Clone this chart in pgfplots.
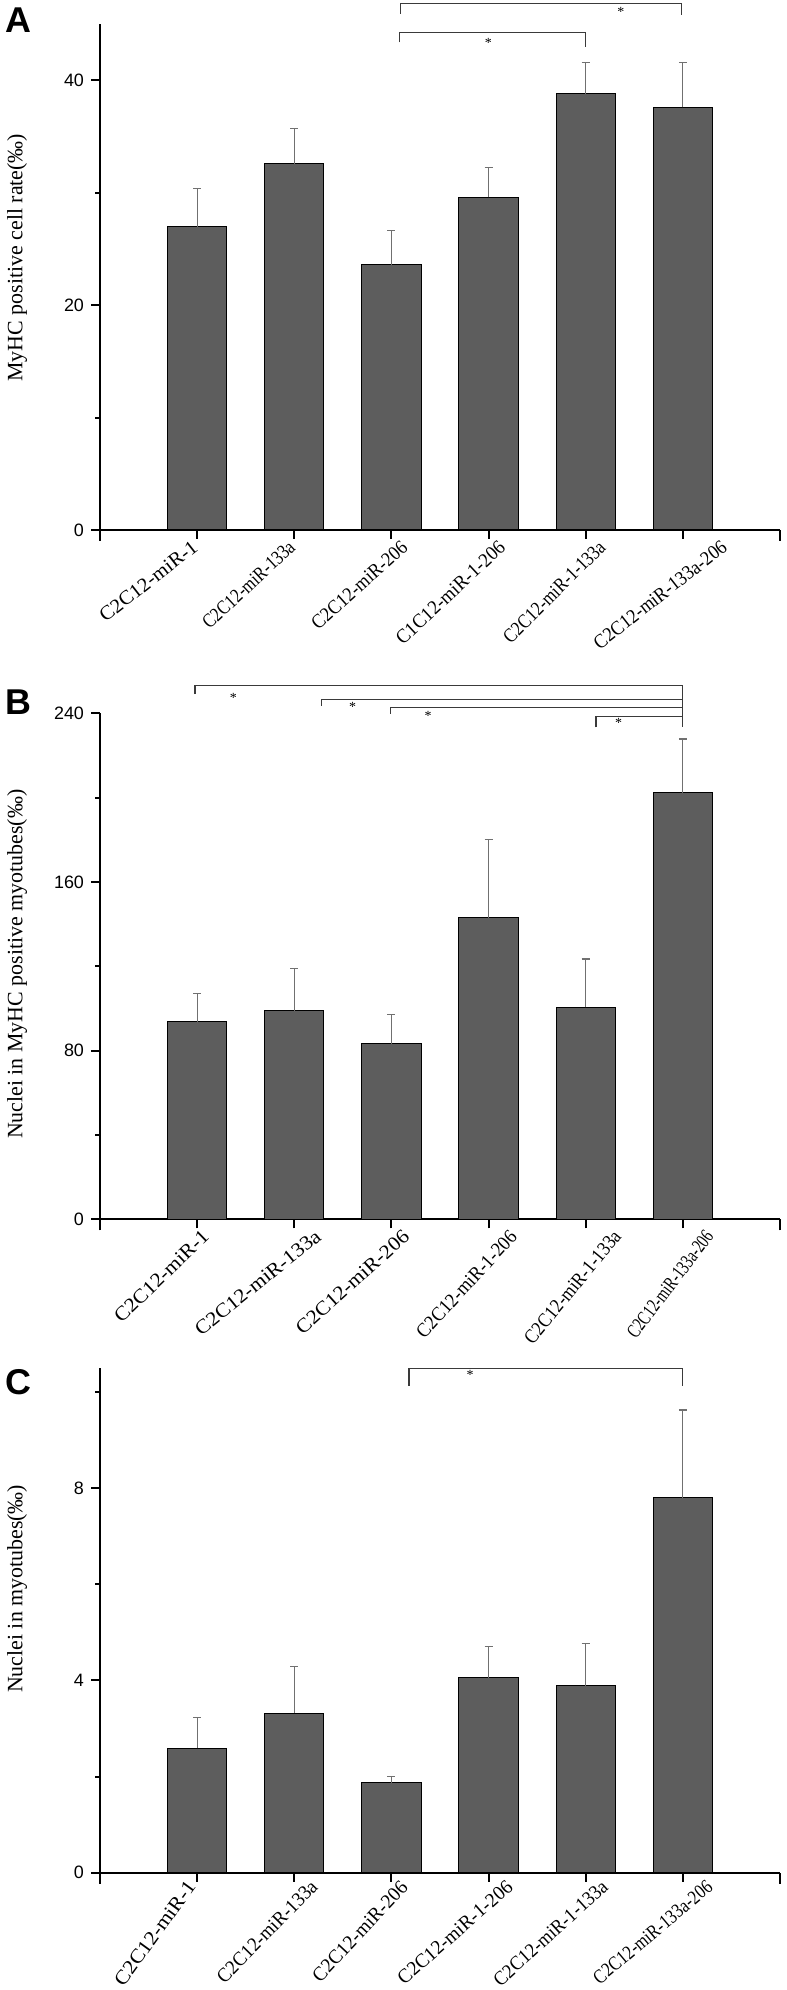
\documentclass[border=0pt]{standalone}
\usepackage{fontspec}
\setmainfont{Liberation Serif}
\setsansfont{Liberation Sans}
\usepackage{graphicx}
\usepackage{pgfplots}
\pgfplotsset{compat=1.18}

\definecolor{barfill}{HTML}{5D5D5D}
\definecolor{errgray}{HTML}{707070}
\definecolor{brk}{HTML}{3A3A3A}

\pgfplotsset{
  panel/.style={
    scale only axis, width=340bp, height=253bp,
    xmin=0, xmax=7, ymin=0,
    axis x line=bottom, axis y line=left,
    axis line style={-, line width=1bp},
    tick align=outside,
    major tick length=4.5bp, minor tick length=2.5bp,
    every tick/.style={black, line width=1bp},
    xtick={1,...,6},
    extra x ticks={0,7}, extra x tick labels={},
    extra x tick style={major tick length=5.5bp},
    ybar, bar width=0.61,
    clip=false,
    /pgf/number format/assume math mode=true,
    yticklabel style={font=\sffamily\fontsize{9}{10}\selectfont},
    xticklabel style={font=\fontsize{10}{12}\selectfont, anchor=north east, inner sep=0pt},
    ylabel style={font=\fontsize{11}{13}\selectfont, anchor=center},
  },
  bars/.style={fill=barfill, draw=black, line width=0.5bp,
    error bars/.cd, y dir=plus, y explicit,
    error bar style={errgray, line width=0.6bp},
    error mark options={errgray, line width=0.6bp, mark size=2bp, rotate=90}},
}
\newcommand{\sigstar}[1]{\node[font=\fontsize{7}{8}\selectfont, inner sep=0pt] at (#1) {*};}
% tick label: angle, horizontal squeeze, shift to the right, text
\newcommand{\xl}[4]{\hbox{\rotatebox{#1}{\scalebox{#2}[1]{#4}}\kern-#3}}

\begin{document}
\begin{tikzpicture}
\path[use as bounding box] (0,0) rectangle (393.5bp,995bp);

% A: MyHC positive cell rate
\begin{axis}[panel, at={(50bp,730bp)}, anchor=south west,
  ymax=45, ytick={0,20,40}, minor ytick={10,30},
  ylabel={MyHC positive cell rate(‰)},
  ylabel style={at={(axis description cs:-0.122,0.538)}},
  xticklabels={\xl{38}{1.04}{1.25bp}{C2C12-miR-1},
               \xl{43}{0.83}{1.25bp}{C2C12-miR-133a},
               \xl{42}{0.91}{9bp}{C2C12-miR-206},
               \xl{43}{0.94}{9.25bp}{C1C12-miR-1-206},
               \xl{45}{0.85}{10.75bp}{C2C12-miR-1-133a},
               \xl{38}{0.91}{23bp}{C2C12-miR-133a-206}}]
\addplot[bars] coordinates {
  (1,26.97) +- (0,3.42)
  (2,32.55) +- (0,3.18)
  (3,23.59) +- (0,3.06)
  (4,29.59) +- (0,2.63)
  (5,38.78) +- (0,2.78)
  (6,37.59) +- (0,3.97)
};
\draw[brk, line width=0.6bp] (axis cs:3.094,45.9) |- (axis cs:5.986,46.84) -- (axis cs:5.986,45.8);
\sigstar{axis cs:5.363,46.1}
\draw[brk, line width=0.6bp] (axis cs:3.083,43.37) |- (axis cs:4.998,44.26) -- (axis cs:4.998,42.98);
\sigstar{axis cs:3.999,43.3}
\end{axis}

% B: Nuclei in MyHC positive myotubes
\begin{axis}[panel, at={(50bp,385.35bp)}, anchor=south west,
  ymax=240, ytick={0,80,160,240}, minor ytick={40,120,200},
  ylabel={Nuclei in MyHC positive myotubes(‰)},
  ylabel style={at={(axis description cs:-0.122,0.504)}},
  xticklabels={\xl{44}{1.08}{6.8bp}{C2C12-miR-1},
               \xl{39}{1.09}{14.25bp}{C2C12-miR-133a},
               \xl{42}{1.08}{9.8bp}{C2C12-miR-206},
               \xl{47.5}{0.92}{15bp}{C2C12-miR-1-206},
               \xl{50.5}{0.88}{18.5bp}{C2C12-miR-1-133a},
               \xl{52.7}{0.72}{16bp}{C2C12-miR-133a-206}}]
\addplot[bars] coordinates {
  (1,93.6) +- (0,13.4)
  (2,98.8) +- (0,20.3)
  (3,83.3) +- (0,13.7)
  (4,143.0) +- (0,37.0)
  (5,100.5) +- (0,23.0)
  (6,202.4) +- (0,25.4)
};
\draw[brk, line width=0.6bp] (axis cs:0.978,249.1) |- (axis cs:6,253.0) -- (axis cs:6,233.3);
\draw[brk, line width=0.6bp] (axis cs:2.28,243.5) |- (axis cs:6,246.7);
\draw[brk, line width=0.6bp] (axis cs:2.99,239.9) |- (axis cs:6,242.8);
\draw[brk, line width=0.6bp] (axis cs:5.106,233.3) |- (axis cs:6,238.3);
\sigstar{axis cs:1.374,247.5}
\sigstar{axis cs:2.6,242.8}
\sigstar{axis cs:3.377,238.8}
\sigstar{axis cs:5.338,235.2}
\end{axis}

% C: Nuclei in myotubes
\begin{axis}[panel, at={(50bp,58.65bp)}, anchor=south west, height=252.5bp,
  ymax=10.5, ytick={0,4,8}, minor ytick={2,6,10},
  ylabel={Nuclei in myotubes(‰)},
  ylabel style={at={(axis description cs:-0.122,0.562)}},
  xticklabel style={yshift=1.5bp},
  xticklabels={\xl{54}{1.09}{0bp}{C2C12-miR-1},
               \xl{45.5}{0.94}{12.5bp}{C2C12-miR-133a},
               \xl{47}{0.97}{9bp}{C2C12-miR-206},
               \xl{41.3}{0.97}{13bp}{C2C12-miR-1-206},
               \xl{42.2}{0.92}{12bp}{C2C12-miR-1-133a},
               \xl{40.1}{0.83}{15.75bp}{C2C12-miR-133a-206}}]
\addplot[bars] coordinates {
  (1,2.59) +- (0,0.64)
  (2,3.32) +- (0,0.97)
  (3,1.87) +- (0,0.13)
  (4,4.05) +- (0,0.65)
  (5,3.89) +- (0,0.87)
  (6,7.80) +- (0,1.82)
};
\draw[brk, line width=0.6bp] (axis cs:3.18,10.12) |- (axis cs:5.997,10.49) -- (axis cs:5.997,10.12);
\sigstar{axis cs:3.81,10.35}
\end{axis}

\node[font=\sffamily\bfseries\fontsize{18}{20}\selectfont, inner sep=0pt] at (9.25bp,984.75bp) {A};
\node[font=\sffamily\bfseries\fontsize{18}{20}\selectfont, inner sep=0pt] at (9.25bp,643.75bp) {B};
\node[font=\sffamily\bfseries\fontsize{18}{20}\selectfont, inner sep=0pt] at (9.25bp,304bp) {C};
\end{tikzpicture}
\end{document}
